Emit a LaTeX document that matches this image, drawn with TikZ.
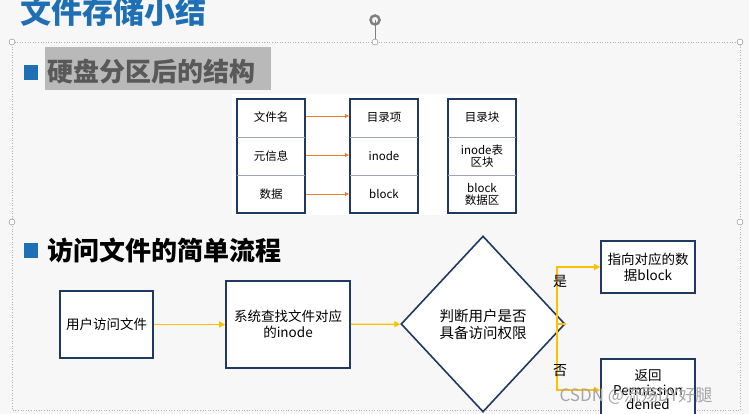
\documentclass[tikz,border=0pt]{standalone}
\usepackage{fontspec}
\setmainfont{Noto Sans CJK SC}
\usetikzlibrary{arrows.meta,shapes.geometric}
\definecolor{navy}{HTML}{1F3864}
\definecolor{ylw}{HTML}{FFC000}
\definecolor{org}{HTML}{ED7D31}
\definecolor{ttl}{HTML}{1F6FB5}
\tikzset{
 fbox/.style={draw=navy,line width=1.6pt,fill=white,align=center,font=\fontsize{13.5}{16}\selectfont,inner sep=2pt},
 tcol/.style={draw=navy,line width=1.2pt,fill=white},
 tcell/.style={font=\fontsize{11.5}{13}\selectfont,align=center},
 yarr/.style={draw=ylw,line width=1.2pt,-{Triangle[length=6pt,width=6pt]}},
 oarr/.style={draw=org,line width=0.8pt,-{Triangle[length=4pt,width=4pt]}},
 handle/.style={circle,draw=gray,fill=white,inner sep=0pt,minimum size=6pt},
 fr/.style={draw=gray!60,dotted,line width=0.6pt}
}
\begin{document}
\begin{tikzpicture}[x=1pt,y=-1pt]
\useasboundingbox[fill=gray!6] (0,0) rectangle (749,414);
% title
\node[anchor=west,text=ttl,font=\fontsize{31}{31}\selectfont\bfseries] (title) at (17,12) {文件存储小结};
% frame
\draw[fr] (12,42) -- (740,42) -- (740,410) -- (12,410) -- cycle;
\draw[gray,line width=1pt] (375,20) -- (375,42);
\node[circle,draw=gray,line width=2.5pt,inner sep=0pt,minimum size=9pt] (rot) at (375,20) {};
\foreach \p in {(12,42),(375,42),(740,42),(12,222),(740,222)} \node[handle] at \p {};
% heading 1
\fill[ttl] (24,65) rectangle (38,80);
\fill[gray!55] (45,47) rectangle (271,90);
\node[anchor=west,text=black!65,font=\fontsize{26}{26}\selectfont\bfseries] (h1) at (44,72) {硬盘分区后的结构};
% table
\fill[white] (232,94) rectangle (520,215);
\foreach \x/\n in {237/a,350/b,448/c}{
 \draw[tcol] (\x,99) rectangle (\x+68,213);
 \draw[navy!45,line width=0.8pt] (\x,137) -- (\x+68,137) (\x,175) -- (\x+68,175);
}
\node[tcell] (a1) at (271,117) {文件名};
\node[tcell] (a2) at (271,156) {元信息};
\node[tcell] (a3) at (271,194) {数据};
\node[tcell] (b1) at (384,117) {目录项};
\node[tcell] (b2) at (384,156) {inode};
\node[tcell] (b3) at (384,194) {block};
\node[tcell] (c1) at (482,117) {目录块};
\node[tcell,font=\fontsize{11.5}{12}\selectfont] (c2) at (482,156) {inode表\\区块};
\node[tcell,font=\fontsize{11.5}{12}\selectfont] (c3) at (482,194) {block\\数据区};
\foreach \y in {116,155,194} \draw[oarr] (306,\y) -- (349,\y);
% heading 2
\fill[ttl] (24,243) rectangle (38,258);
\node[anchor=west,font=\fontsize{26}{26}\selectfont\bfseries] (h2) at (44,251) {访问文件的简单流程};
% flow
\node[fbox,minimum width=93pt,minimum height=67pt] (u) at (106.5,324.5) {用户访问文件};
\node[fbox,minimum width=124pt,minimum height=87pt] (s) at (288,324.5) {系统查找文件对应\\的inode};
\node[diamond,draw=navy,line width=1.6pt,fill=white,minimum width=164pt,minimum height=176pt,inner sep=0pt,align=center,font=\fontsize{14.5}{17}\selectfont] (d) at (483,324) {判断用户是否\\具备访问权限};
\node[fbox,minimum width=94pt,minimum height=52pt] (y) at (648,267) {指向对应的数\\据block};
\node[fbox,minimum width=94pt,minimum height=62pt,font=\fontsize{13.5}{14.5}\selectfont] (n) at (648,390) {返回\\Permission\\denied};
\draw[yarr] (u) -- (s);
\draw[yarr] (s) -- (d);
\coordinate (br) at (557,324);
\draw[ylw,line width=1.2pt] (d.east) -- (br);
\draw[yarr] (br) |- (y.west);
\draw[yarr] (br) |- (n.west);
\node[font=\fontsize{14}{14}\selectfont] (ys) at (560,281) {是};
\node[font=\fontsize{14}{14}\selectfont] (no) at (560,371) {否};
\node[anchor=west,text=gray!70,font=\fontsize{17}{17}\selectfont] (wm) at (556,396) {CSDN @流殇DY好腿};
\end{tikzpicture}
\end{document}
